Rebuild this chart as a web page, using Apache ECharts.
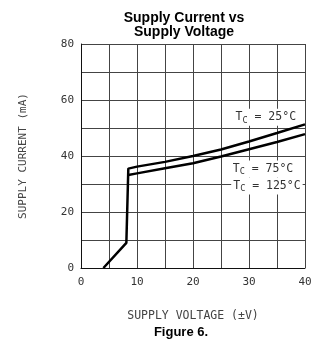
<!DOCTYPE html>
<html>
<head>
<meta charset="utf-8">
<script src="https://cdn.jsdelivr.net/npm/echarts@6/dist/echarts.min.js"></script>
<style>
  html, body { margin: 0; padding: 0; background: #fff; }
  #chart { width: 336px; height: 350px; }
</style>
</head>
<body>
<div id="chart"></div>
<script>
// Supply current vs supply voltage, case temperature curves
const xTicks = [0, 10, 20, 30, 40];
const yTicks = [0, 20, 40, 60, 80];

// T_C = 25°C (includes the start-up rise)
const curve25 = [
  [4, 0], [8.1, 9], [8.45, 35.5], [10, 36.2], [15, 37.9], [20, 40.0],
  [25, 42.3], [30, 45.2], [35, 48.2], [40, 51.3]
];
// T_C = 75°C / 125°C
const curveHot = [
  [8.45, 33.2], [10, 33.8], [15, 35.6], [20, 37.4], [25, 39.8],
  [30, 42.4], [35, 45.0], [40, 47.8]
];

// curve labels: [text prefix, text suffix, x, y] in data units
const curveLabels = [
  ['T', ' = 25°C', 33.0, 53.8],
  ['T', ' = 75°C', 32.5, 35.4],
  ['T', ' = 125°C', 33.2, 29.3]
];

const monoFont = '"DejaVu Sans Mono", monospace';
const boldFont = '"Liberation Sans", Arial, sans-serif';
const chart = echarts.init(document.getElementById('chart'));

chart.setOption({
  animation: false,
  backgroundColor: '#fff',
  grid: { left: 81, right: 31, top: 44, bottom: 82 },
  xAxis: {
    type: 'value',
    min: 0, max: 40, interval: 5,
    name: 'SUPPLY VOLTAGE (±V)',
    nameLocation: 'middle',
    nameGap: 42,
    nameTextStyle: { fontFamily: monoFont, fontSize: 11.5, color: '#444' },
    axisLine: { lineStyle: { color: '#111', width: 1 } },
    axisTick: { show: false },
    splitLine: { show: true, lineStyle: { color: '#444', width: 1 } },
    axisLabel: {
      margin: 9,
      fontFamily: monoFont, fontSize: 11, color: '#333',
      formatter: v => (xTicks.includes(v) ? String(v) : '')
    }
  },
  yAxis: {
    type: 'value',
    min: 0, max: 80, interval: 10,
    name: 'SUPPLY CURRENT (mA)',
    nameLocation: 'middle',
    nameGap: 52,
    nameTextStyle: { fontFamily: monoFont, fontSize: 11, color: '#444', padding: [0, 0, 0, 0] },
    axisLine: { show: true, lineStyle: { color: '#111', width: 1 } },
    axisTick: { show: false },
    splitLine: { show: true, lineStyle: { color: '#444', width: 1 } },
    axisLabel: {
      margin: 7,
      fontFamily: monoFont, fontSize: 11, color: '#333',
      formatter: v => (yTicks.includes(v) ? String(v) : '')
    }
  },
  series: [
    {
      type: 'line',
      data: curve25,
      showSymbol: false,
      lineStyle: { color: '#000', width: 2.5 },
      z: 5
    },
    {
      type: 'line',
      data: curveHot,
      showSymbol: false,
      lineStyle: { color: '#000', width: 2.5 },
      z: 5,
      markPoint: {
        symbol: 'rect',
        symbolSize: 0,
        silent: true,
        data: curveLabels.map(([t, rest, x, y]) => ({
          coord: [x, y],
          label: {
            show: true,
            position: 'inside',
            backgroundColor: '#fff',
            padding: [1, 2, 1, 2],
            formatter: '{a|' + t + '}{s|C}{a|' + rest + '}',
            rich: {
              a: { fontFamily: monoFont, fontSize: 11.5, color: '#333' },
              s: { fontFamily: monoFont, fontSize: 8.5, color: '#333', padding: [6, 0, 0, 0] }
            }
          }
        }))
      }
    }
  ],
  graphic: [
    {
      type: 'text',
      x: 184,
      y: 25,
      style: {
        text: 'Supply Current vs\nSupply Voltage',
        fontFamily: boldFont,
        fontWeight: 'bold',
        fontSize: 14,
        lineHeight: 14.5,
        fill: '#000',
        align: 'center',
        verticalAlign: 'middle'
      }
    },
    {
      type: 'text',
      x: 181,
      y: 332,
      style: {
        text: 'Figure 6.',
        fontFamily: boldFont,
        fontWeight: 'bold',
        fontSize: 13,
        fill: '#000',
        align: 'center',
        verticalAlign: 'middle'
      }
    }
  ]
});
</script>
</body>
</html>
